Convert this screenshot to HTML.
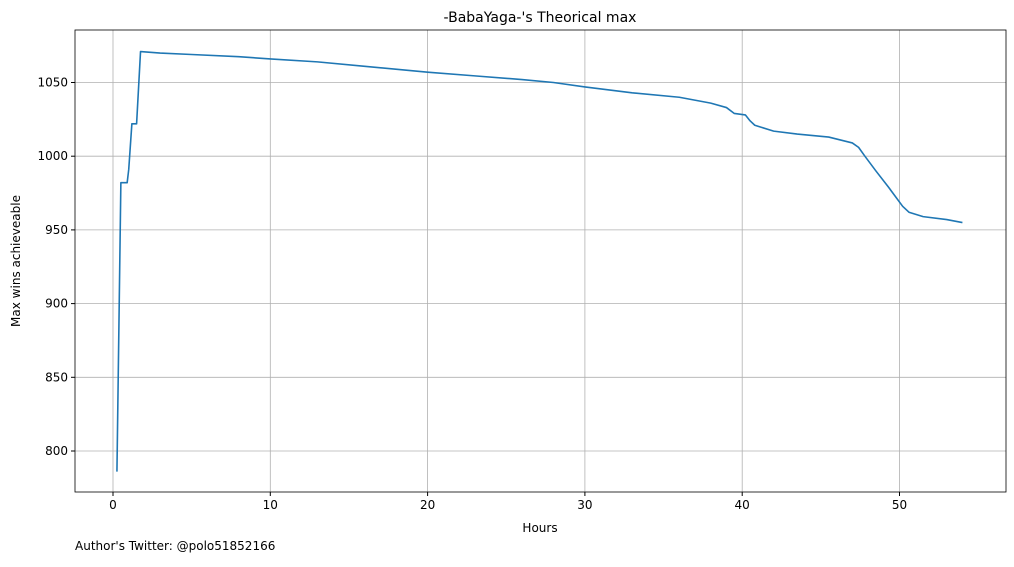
<!DOCTYPE html>
<html><head><meta charset="utf-8"><style>
body{margin:0;background:#fff;font-family:"Liberation Sans","DejaVu Sans",sans-serif;}
svg text{font-family:"DejaVu Sans","Liberation Sans",sans-serif;}
</style></head><body>
<svg id="chart" width="1014" height="562" xmlns="http://www.w3.org/2000/svg"></svg>
<script>
const hours=[0.25,0.5,0.9,1.0,1.2,1.5,1.75,3,5,8,10,13,16,20,23,26,28,30,33,36,38,39,39.5,40.2,40.5,40.8,42,43.5,45.5,47.0,47.4,47.8,48.5,49.3,50.2,50.6,51.5,53,54];
const wins=[786,982,982,991,1022,1022,1071,1070,1069,1067.5,1066,1064,1061,1057,1054.5,1052,1050,1047,1043,1040,1036,1033,1029,1028,1024,1021,1017,1015,1013,1009,1006,1000,990,979,966,962,959,957,955];
const xTicks=[0,10,20,30,40,50];
const yTicks=[800,850,900,950,1000,1050];
const svg=document.getElementById('chart');
const NS='http://www.w3.org/2000/svg';
const L=75,R=1006,T=30,B=492;
const xs=v=>113+v*15.73;
const ys=v=>451-(v-800)*1.474;
function mk(tag,attrs,txt){const e=document.createElementNS(NS,tag);for(const k in attrs)e.setAttribute(k,attrs[k]);if(txt!==undefined)e.textContent=txt;svg.appendChild(e);return e;}
xTicks.forEach(t=>{const x=xs(t);
const g=mk('line',{x1:x,x2:x,y1:T,y2:B,stroke:'#b0b0b0','stroke-width':0.8});


mk('line',{x1:x,x2:x,y1:B,y2:B+4,stroke:'#000'});
const l=mk('text',{x:x,y:B+17,'font-size':12,'text-anchor':'middle'},t);

});
yTicks.forEach(t=>{const y=ys(t);
const g=mk('line',{x1:L,x2:R,y1:y,y2:y,stroke:'#b0b0b0','stroke-width':0.8});


mk('line',{x1:L-4,x2:L,y1:y,y2:y,stroke:'#000'});
const l=mk('text',{x:L-7,y:y+4,'font-size':12,'text-anchor':'end'},t);

});
const p=mk('polyline',{points:hours.map((h,i)=>xs(h)+','+ys(wins[i])).join(' '),fill:'none',stroke:'#1f77b4','stroke-width':1.6,'stroke-linejoin':'round'});


const f=mk('rect',{x:L,y:T,width:R-L,height:B-T,fill:'none',stroke:'#000','stroke-width':0.8});


const ti=mk('text',{x:540,y:22,'font-size':14,'text-anchor':'middle'},"-BabaYaga-'s Theorical max");


const xt=mk('text',{x:540,y:532,'font-size':12,'text-anchor':'middle'},'Hours');


const yt=mk('text',{x:20,y:261,'font-size':12,'text-anchor':'middle',transform:'rotate(-90 20 261)'},'Max wins achieveable');


const a=mk('text',{x:75,y:550,'font-size':12},"Author's Twitter: @polo51852166");


</script>
</body></html>
